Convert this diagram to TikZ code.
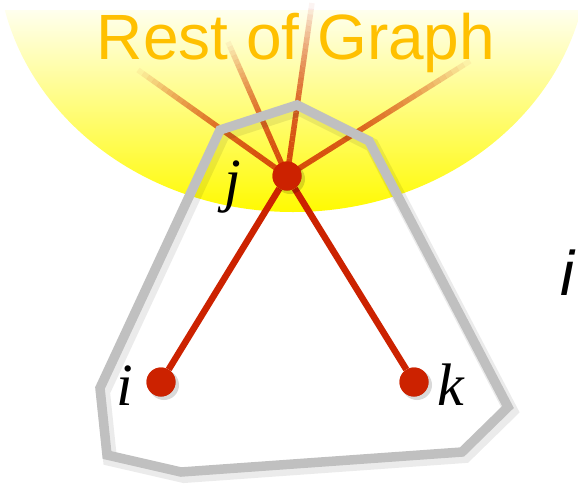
\documentclass[tikz,border=0pt]{standalone}
\usepackage{fontspec}
\setmainfont{Liberation Serif}
\newfontfamily\headfont{Liberation Sans}
\usetikzlibrary{calc}

\definecolor{nodered}{RGB}{204,34,0}
\definecolor{hullgray}{RGB}{192,192,192}
\definecolor{headorange}{RGB}{255,192,0}
\definecolor{glowtop}{RGB}{255,255,238}
\definecolor{glowmid}{RGB}{255,252,150}
\definecolor{glowbot}{RGB}{255,250,0}

\begin{document}
\begin{tikzpicture}[x=1pt,y=-1pt,
  vertex/.style={circle,fill=nodered,minimum size=29pt,inner sep=0pt},
  lbl/.style={anchor=base,inner sep=0pt,font=\fontsize{60}{60}\selectfont\itshape},
  edge/.style={draw=nodered,line width=6.5pt},
  ray/.style={draw=nodered,line width=5.5pt},
  hull/.style={draw=hullgray,line width=9.5pt,line join=miter},
  hullshadow/.style={draw=black,opacity=.08,line width=14pt,line join=miter}]
\useasboundingbox (0,0) rectangle (578,491);

% the rest of the graph
\begin{scope}
\clip (293,-50) ellipse [x radius=296, y radius=262];
\shade[top color=glowtop,middle color=glowmid,bottom color=glowbot] (0,10) rectangle (578,213);
\end{scope}
\node[anchor=base,inner sep=0pt,text=headorange,font=\headfont\fontsize{64}{64}\selectfont] (head) at (296,59) {Rest of Graph};
\node[anchor=base west,inner sep=0pt,font=\headfont\itshape\fontsize{63}{63}\selectfont] (cut) at (560,295) {i};

% nodes
\node[vertex] (j) at (287,176) {};
\node[vertex] (i) at (161,382) {};
\node[vertex] (k) at (414,382) {};
\coordinate (r1) at (138,70);
\coordinate (r2) at (228,42);
\coordinate (r3) at (312,3);
\coordinate (r4) at (470,61);

% fading edges into the rest of the graph
\foreach \e in {r1,r2,r3,r4}{
  \foreach \s in {0,...,29}{
    \pgfmathsetmacro\ta{\s/30}
    \pgfmathsetmacro\tb{(\s+1)/30}
    \pgfmathsetmacro\op{0.8*(1-(\s/30)^2)}
    \draw[ray,draw opacity=\op] ($(j.center)!\ta!(\e)$) -- ($(j.center)!\tb!(\e)$);
  }
}

% the cluster
\draw[hullshadow] (223,134) -- (300,109) -- (372,145) -- (511,411) -- (465,456) -- (184,476) -- (110,459) -- (103,392) -- cycle;
\draw[hull] (220,130) -- (297,105) -- (369,141) -- (508,407) -- (462,452) -- (181,472) -- (107,455) -- (100,388) -- cycle;

\draw[edge] (i) -- (j);
\draw[edge] (j) -- (k);
\foreach \v in {i,j,k}
  \fill[black,opacity=.15] ($(\v)+(3,3)$) circle (15pt);
\node[vertex] at (j) {};
\node[vertex] at (i) {};
\node[vertex] at (k) {};

\node[lbl] (jl) at (233,200) {j};
\node[lbl] (il) at (125,405) {i};
\node[lbl] (kl) at (451,405) {k};
\end{tikzpicture}
\end{document}
